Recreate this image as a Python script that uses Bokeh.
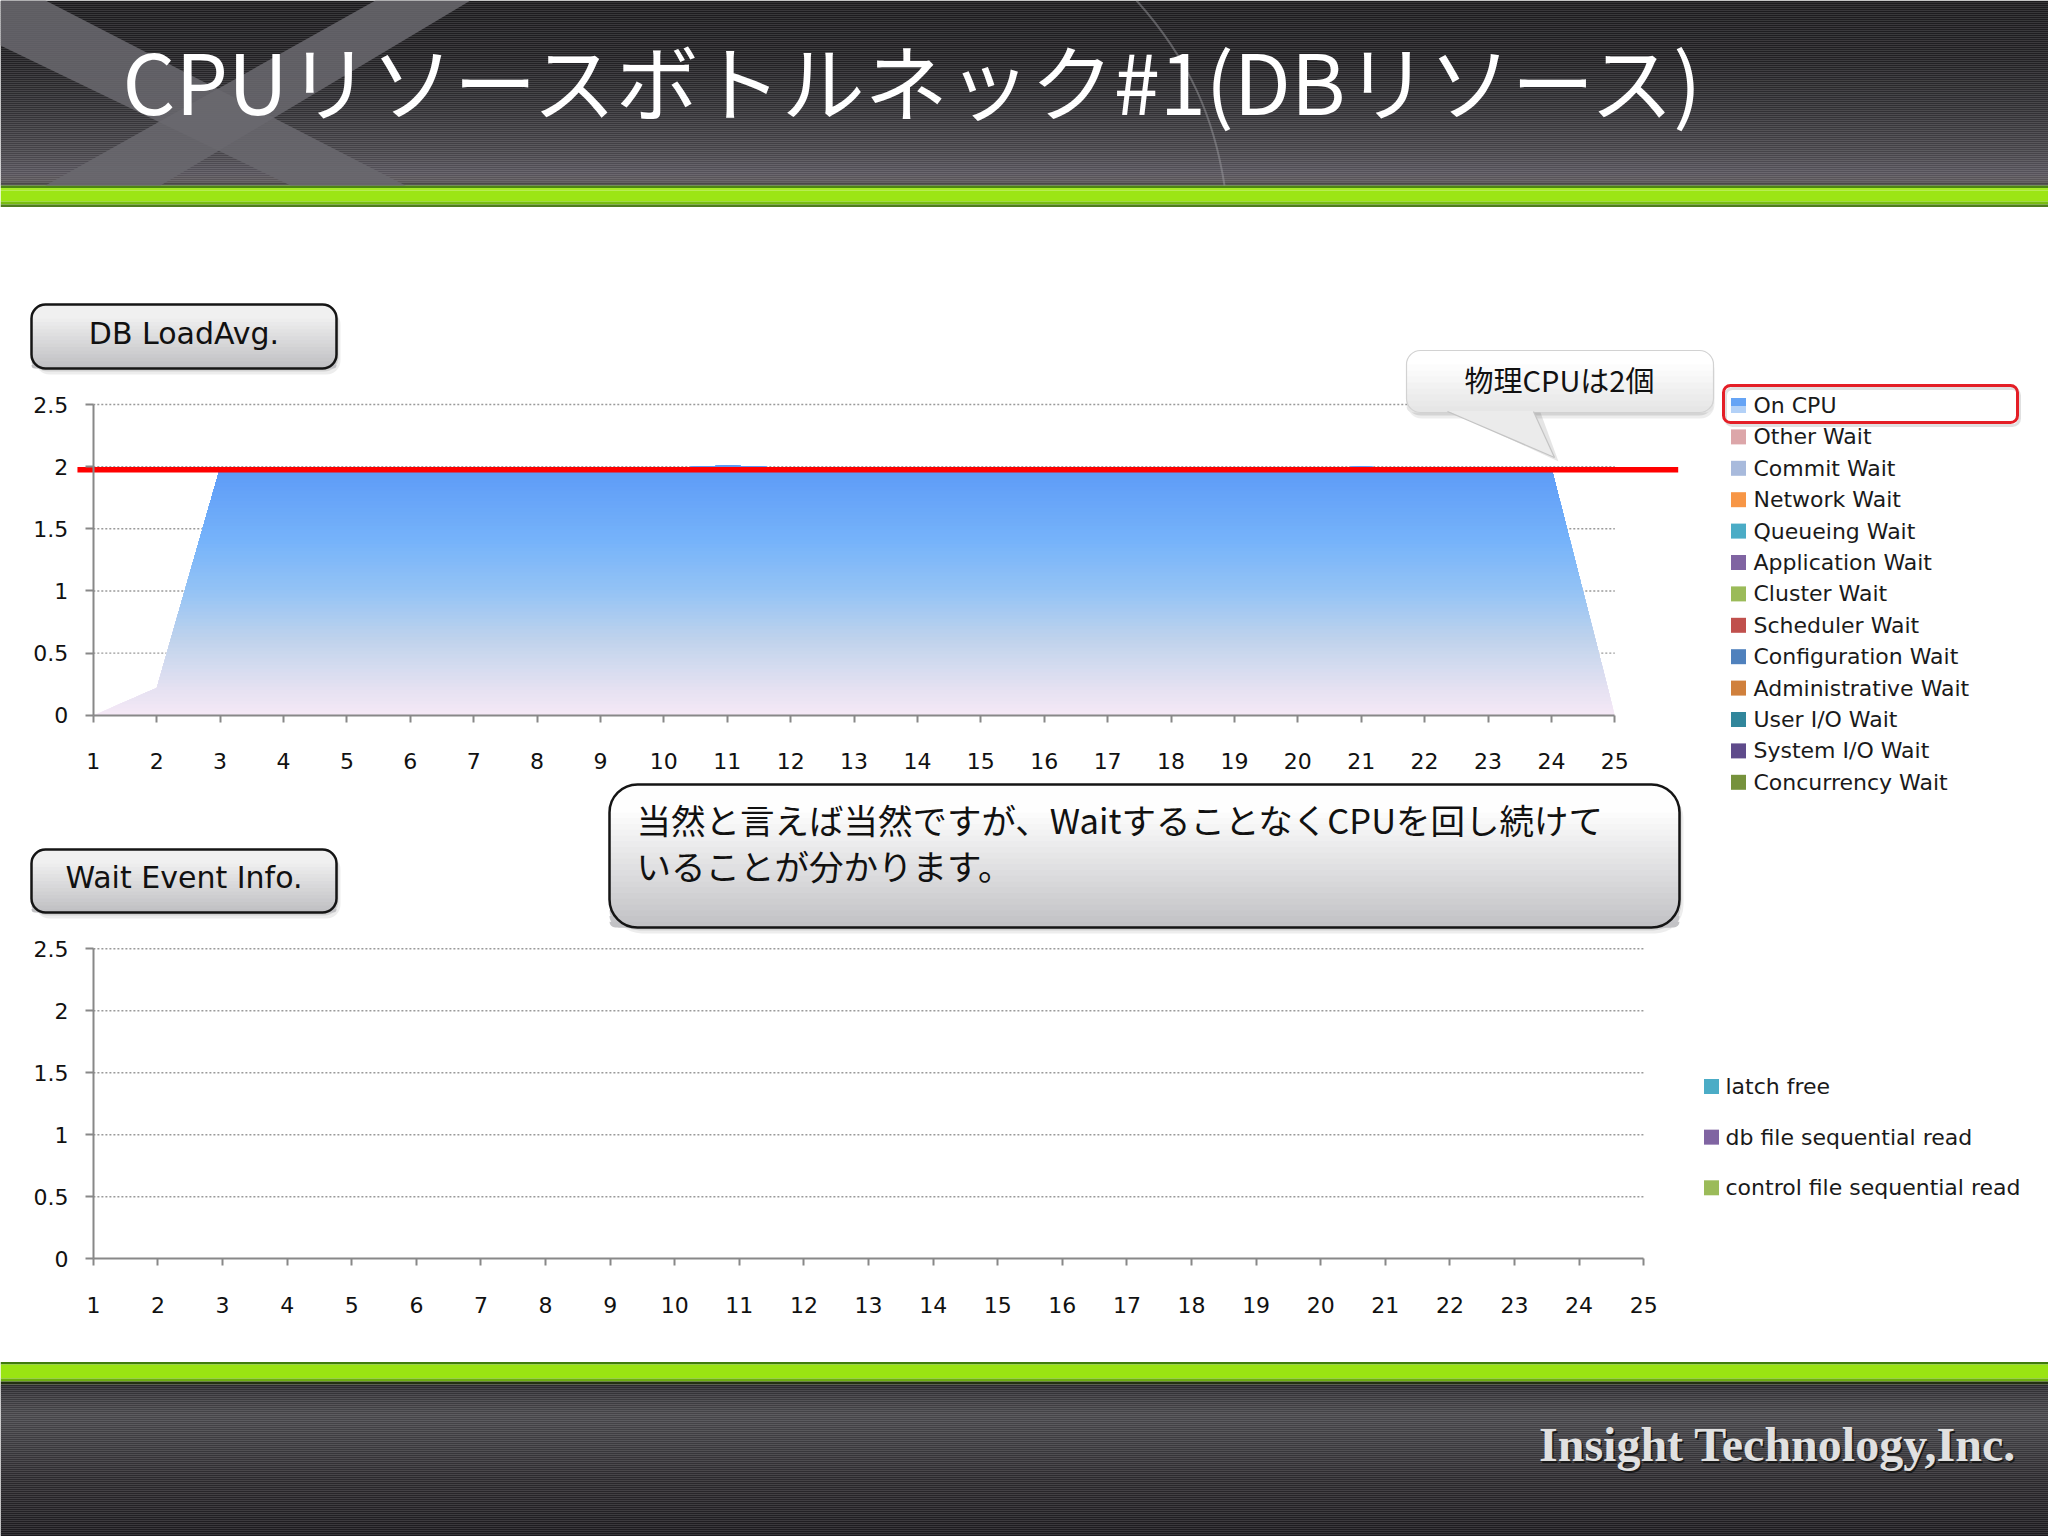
import numpy as np
from bokeh.plotting import figure
from bokeh.models import (Range1d, LinearAxis, FixedTicker, NumeralTickFormatter,
                          BoxAnnotation, Label)
from bokeh.core.properties import value
from bokeh.embed import file_html
from bokeh.resources import INLINE

# ---------------- data ----------------
TITLE = "CPUリソースボトルネック#1(DBリソース)"
CHART1_TITLE = "DB LoadAvg."
CHART2_TITLE = "Wait Event Info."
BUBBLE_TEXT = "物理CPUは2個"
NOTE_LINES = ["当然と言えば当然ですが、WaitすることなくCPUを回し続けて",
              "いることが分かります。"]
COMPANY = "Insight Technology,Inc."

X_VALUES = list(range(1, 26))
ON_CPU = [0.0, 0.22, 1.99, 1.99, 1.99, 1.99, 1.99, 1.99, 1.99, 1.99, 2.01, 1.99, 1.99,
          1.99, 1.99, 1.99, 1.99, 1.99, 1.99, 1.99, 2.0, 1.99, 1.99, 1.99, 0.0]
PHYSICAL_CPU_LINE = 1.975
Y_TICKS = [0, 0.5, 1, 1.5, 2, 2.5]

WAIT_CLASSES = ["On CPU", "Other Wait", "Commit Wait", "Network Wait", "Queueing Wait",
                "Application Wait", "Cluster Wait", "Scheduler Wait", "Configuration Wait",
                "Administrative Wait", "User I/O Wait", "System I/O Wait", "Concurrency Wait"]
WAIT_COLORS = ["#66a4f5", "#dca6a9", "#a8badc", "#f79646", "#4bacc6", "#8064a2", "#9bbb59",
               "#c0504d", "#4f81bd", "#d0803c", "#31869b", "#5f4b8b", "#76923c"]
EVENTS = ["latch free", "db file sequential read", "control file sequential read"]
EVENT_COLORS = ["#4bacc6", "#8064a2", "#9bbb59"]

# ---------------- layout (reference pixel coordinates) ----------------
FL, FR, FT, FB, REF_H = 0, 2048, 0, 1536, 1536


def Y(py):
    return REF_H - py


CHART1 = (92.8, 1614.3, 714.8, 404.0)   # px of x=first, x=last, y=0, y=top
CHART2 = (92.9, 1643.2, 1258.3, 948.3)

AREA_STOPS = [(0.0, "#f5e8f6"), (0.2, "#e6e2f2"), (0.6, "#c0d3ec"), (1.0, "#94c3f5"),
              (1.4, "#76b3fa"), (1.86, "#62a0f8"), (2.05, "#5a96ee")]


def hex2rgb(h):
    return tuple(int(h[i:i + 2], 16) for i in (1, 3, 5))


def mix(stops, t):
    if t <= stops[0][0]:
        return stops[0][1]
    for (a, ca), (b, cb) in zip(stops[:-1], stops[1:]):
        if a <= t <= b:
            f = (t - a) / (b - a) if b > a else 0
            ra, rb = hex2rgb(ca), hex2rgb(cb)
            return "#%02x%02x%02x" % tuple(int(round(ra[i] + (rb[i] - ra[i]) * f)) for i in range(3))
    return stops[-1][1]


def chart_ranges(X0, X1, Y0, Y1):
    xmin, xmax = X_VALUES[0], X_VALUES[-1]
    ymin, ymax = Y_TICKS[0], Y_TICKS[-1]
    sx = (X1 - X0) / (xmax - xmin)
    sy = (Y0 - Y1) / (ymax - ymin)
    return (Range1d(xmin + (FL - X0) / sx, xmin + (FR - X0) / sx),
            Range1d(ymin - (FB - Y0) / sy, ymin + (Y0 - FT) / sy))


p = figure(width=FR - FL, height=FB - FT,
           x_range=Range1d(FL, FR), y_range=Range1d(Y(FB), Y(FT)),
           x_axis_type=None, y_axis_type=None, toolbar_location=None,
           output_backend="svg", min_border=0, outline_line_color=None,
           background_fill_color="white", border_fill_color="white")

r1x, r1y = chart_ranges(*CHART1)
r2x, r2y = chart_ranges(*CHART2)
p.extra_x_ranges = {"x1": r1x, "x2": r2x}
p.extra_y_ranges = {"y1": r1y, "y2": r2y}

# ---------------- header / footer decoration ----------------
HEADER_STOPS = [(0, "#1b1a1d"), (60, "#222124"), (110, "#323135"), (150, "#454348"),
                (172, "#55525a"), (181, "#5a5659"), (185, "#3a3937")]
FOOTER_STOPS = [(1384, "#29282c"), (1395, "#38373b"), (1415, "#47464a"), (1445, "#3b3a3e"),
                (1480, "#2b292d"), (1536, "#1c1a1e")]
tops, bots, cols = [], [], []
for stops, y0, y1 in [(HEADER_STOPS, 0, 185), (FOOTER_STOPS, 1384, 1536)]:
    for yy in np.arange(y0, y1, 2.0):
        tops.append(Y(yy))
        bots.append(Y(min(yy + 2.3, y1)))
        cols.append(mix(stops, yy + 1))
for a, b, c in [(185, 187.5, "#4d8612"), (187.5, 190, "#a6ec26"), (190, 201, "#9ce515"),
                (201, 204, "#78bd10"), (204, 206.5, "#4f7d1e"),
                (1361.5, 1364, "#3f7c0b"), (1364, 1378, "#9ae412"), (1378, 1381, "#6cae0f"),
                (1381, 1384, "#22300f")]:
    tops.append(Y(a)); bots.append(Y(b)); cols.append(c)
p.quad(left=FL, right=FR, top=tops, bottom=bots, fill_color=cols, line_color=None)

X_SHAPE_X = [[0, 45, 405, 290, 0], [375, 470, 160, 45]]
X_SHAPE_Y = [[Y(0), Y(0), Y(185), Y(185), Y(45)], [Y(0), Y(0), Y(185), Y(185)]]
p.patches(xs=X_SHAPE_X, ys=X_SHAPE_Y, fill_color="#6a696f", fill_alpha=0.85, line_color=None)
p.bezier(x0=[1136], y0=[Y(0)], x1=[1224], y1=[Y(185)], cx0=[1190], cy0=[Y(60)],
         cx1=[1214], cy1=[Y(120)], line_color="#a09fa4", line_alpha=0.45, line_width=2)

p.text(x=[122], y=[Y(78)], text=[TITLE], text_font=value("Noto Sans CJK JP"),
       text_font_size="83px", text_color="white", text_baseline="alphabetic",
       text_align="left")

p.text(x=[1540], y=[Y(1446)], text=[COMPANY], text_font=value("Liberation Serif"),
       text_font_style="bold", text_font_size="48px", text_color="#1a1a1a",
       text_baseline="alphabetic")
p.text(x=[1538.5], y=[Y(1444)], text=[COMPANY], text_font=value("Liberation Serif"),
       text_font_style="bold", text_font_size="48px", text_color="#e0e0e0",
       text_baseline="alphabetic")


# ---------------- charts ----------------
def add_axes(xn, yn):
    xmin, xmax = X_VALUES[0], X_VALUES[-1]
    ymin, ymax = Y_TICKS[0], Y_TICKS[-1]
    # dotted horizontal grid lines
    gy = Y_TICKS[1:]
    p.segment(x0=[xmin] * len(gy), x1=[xmax] * len(gy), y0=gy, y1=gy,
              line_color="#9a9a9a", line_width=1.4, line_dash="2 2",
              x_range_name=xn, y_range_name=yn)
    xa = LinearAxis(x_range_name=xn, y_range_name=yn, fixed_location=ymin,
                    bounds=(xmin, xmax), ticker=FixedTicker(ticks=X_VALUES))
    ya = LinearAxis(x_range_name=xn, y_range_name=yn, fixed_location=xmin,
                    bounds=(ymin, ymax), ticker=FixedTicker(ticks=Y_TICKS),
                    formatter=NumeralTickFormatter(format="0.[0]"))
    for ax, standoff, tick in [(xa, 31, 7), (ya, 17, 8)]:
        ax.axis_line_color = "#888888"
        ax.axis_line_width = 2
        ax.major_tick_line_color = "#888888"
        ax.major_tick_line_width = 2
        ax.major_tick_out = tick
        ax.major_tick_in = 0
        ax.minor_tick_line_color = None
        ax.major_label_text_font = "DejaVu Sans"
        ax.major_label_text_font_size = "22px"
        ax.major_label_text_color = "#111111"
        ax.major_label_standoff = standoff
    p.add_layout(xa, "below")
    p.add_layout(ya, "left")


add_axes("x1", "y1")
add_axes("x2", "y2")

# On CPU area with vertical colour gradient (bands clipped exactly to the series outline)
xs_d = np.array(X_VALUES, dtype=float)
fs_d = np.array(ON_CPU, dtype=float)
levels = np.linspace(0.0, 2.04, 72)
xr = list(xs_d)
for i in range(len(xs_d) - 1):
    a, b = fs_d[i], fs_d[i + 1]
    for L in levels:
        if min(a, b) < L < max(a, b):
            xr.append(xs_d[i] + (L - a) / (b - a) * (xs_d[i + 1] - xs_d[i]))
xr = np.unique(np.array(xr))
fr = np.interp(xr, xs_d, fs_d)
band_xs, band_ys, band_cols = [], [], []
for lo in levels[:-1]:
    lower = np.minimum(fr, lo)
    band_xs.append(list(np.concatenate([xr, xr[::-1]])))
    band_ys.append(list(np.concatenate([fr, lower[::-1]])))
    band_cols.append(mix(AREA_STOPS, lo + (levels[1] - levels[0]) / 2))
p.patches(xs=band_xs, ys=band_ys, fill_color=band_cols, line_color=None,
          x_range_name="x1", y_range_name="y1")

# physical CPU line
p.line(x=[X_VALUES[0] - 0.25, X_VALUES[-1] + 1.0], y=[PHYSICAL_CPU_LINE] * 2,
       line_color="#ff0000", line_width=5.5, x_range_name="x1", y_range_name="y1")

# legends (drawn as glyphs)
LEG1_SW_X, LEG1_TX_X, LEG1_Y0, LEG1_DY = 1738, 1753, 405, 31.4
n1 = len(WAIT_CLASSES)
ly1 = [Y(LEG1_Y0 + i * LEG1_DY) for i in range(n1)]
p.rect(x=[LEG1_SW_X] * n1, y=ly1, width=15, height=15, fill_color=WAIT_COLORS, line_color=None)
p.rect(x=[LEG1_SW_X], y=[ly1[0] - 4], width=15, height=7, fill_color="#b3d1f7", line_color=None)
p.text(x=[LEG1_TX_X] * n1, y=ly1, text=WAIT_CLASSES, text_font=value("DejaVu Sans"),
       text_font_size="22px", text_baseline="middle", text_color="#1a1a1a")

LEG2_SW_X, LEG2_TX_X, LEG2_Y0, LEG2_DY = 1711, 1725, 1086, 50.65
n2 = len(EVENTS)
ly2 = [Y(LEG2_Y0 + i * LEG2_DY) for i in range(n2)]
p.rect(x=[LEG2_SW_X] * n2, y=ly2, width=15, height=15, fill_color=EVENT_COLORS, line_color=None)
p.text(x=[LEG2_TX_X] * n2, y=ly2, text=EVENTS, text_font=value("DejaVu Sans"),
       text_font_size="22px", text_baseline="middle", text_color="#1a1a1a")


# ---------------- boxes / call-outs ----------------
def grad_box(l, t, r, b, radius, c_top, c_bot, line_color, line_width, n=14,
             shadow=((2, 3, 0.10), (4, 6, 0.07))):
    for dx, dy, a in shadow:
        p.add_layout(BoxAnnotation(left=l + dx, right=r + dx, top=Y(t + dy), bottom=Y(b + dy),
                                   fill_color="black", fill_alpha=a, line_color=None,
                                   border_radius=radius))
    p.add_layout(BoxAnnotation(left=l, right=r, top=Y(t), bottom=Y(b), fill_color=c_top,
                               fill_alpha=1, line_color=None, border_radius=radius))
    start = t + radius
    for k in range(n):
        yk = start + (b - start) * k / n
        col = mix([(0, c_top), (1, c_bot)], (k + 1) / n)
        p.add_layout(BoxAnnotation(left=l, right=r, top=Y(yk), bottom=Y(b), fill_color=col,
                                   fill_alpha=1, line_color=None,
                                   border_radius=(0, 0, radius, radius)))
    if line_color is not None:
        p.add_layout(BoxAnnotation(left=l, right=r, top=Y(t), bottom=Y(b), fill_alpha=0,
                                   line_color=line_color, line_width=line_width,
                                   line_alpha=1, border_radius=radius))


grad_box(31, 304, 336, 368, 14, "#f0f0f0", "#c0c0c3", "#151515", 2.5)
grad_box(31, 849, 336, 912, 14, "#f0f0f0", "#c0c0c3", "#151515", 2.5)
grad_box(609, 784, 1679, 927, 28, "#fefefe", "#c2c2c5", "#151515", 2.5, n=20)
grad_box(1406, 350, 1713, 412, 14, "#ffffff", "#e6e6e6", "#d2d2d2", 1.2, n=8,
         shadow=((0, 3, 0.10), (1, 6, 0.07)))

# red highlight around the On CPU legend entry (soft outline shadow, then red frame)
p.add_layout(BoxAnnotation(left=1725, right=2019, top=Y(388), bottom=Y(425), fill_alpha=0,
                           line_color="black", line_alpha=0.12, line_width=3, border_radius=7))
p.add_layout(BoxAnnotation(left=1723, right=2017, top=Y(385), bottom=Y(422), fill_color="white",
                           fill_alpha=0, line_color="#e41e26", line_width=3, line_alpha=1,
                           border_radius=7))

# bubble pointer
p.patch(x=[1452, 1540, 1558], y=[Y(412), Y(412), Y(461)], fill_color="black", fill_alpha=0.10,
        line_color=None, level="overlay")
p.patch(x=[1447, 1533, 1554], y=[Y(410.5), Y(410.5), Y(457)], fill_color="#ebebeb",
        line_color=None, level="overlay")
p.multi_line(xs=[[1447, 1554], [1533, 1554]], ys=[[Y(411), Y(457)], [Y(411), Y(457)]],
             line_color="#c4c4c4", line_width=1.2, level="overlay")

# texts on boxes
p.add_layout(Label(x=183.5, y=Y(333), text=CHART1_TITLE, text_font="DejaVu Sans",
                   text_font_size="30px", text_align="center", text_baseline="middle",
                   text_color="#111111"))
p.add_layout(Label(x=183.5, y=Y(877), text=CHART2_TITLE, text_font="DejaVu Sans",
                   text_font_size="30px", text_align="center", text_baseline="middle",
                   text_color="#111111"))
p.add_layout(Label(x=1559, y=Y(378), text=BUBBLE_TEXT, text_font="Noto Sans CJK JP",
                   text_font_size="29px", text_align="center", text_baseline="middle",
                   text_color="#111111"))
for i, line in enumerate(NOTE_LINES):
    p.add_layout(Label(x=636, y=Y(818 + i * 46), text=line, text_font="Noto Sans CJK JP",
                       text_font_size="34.5px", text_align="left", text_baseline="middle",
                       text_color="#111111"))

open("out.html", "w").write(file_html(p, INLINE))
